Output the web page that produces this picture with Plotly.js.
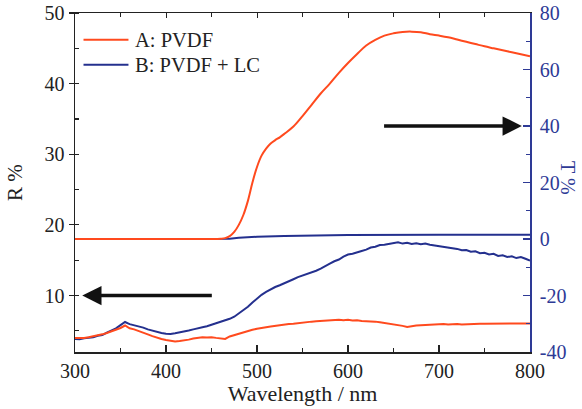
<!DOCTYPE html>
<html>
<head>
<meta charset="utf-8">
<script src="https://cdn.plot.ly/plotly-3.0.1.min.js"></script>
<style>html,body{margin:0;padding:0;background:#fff;}#chart{width:582px;height:409px;}</style>
</head>
<body>
<div id="chart"></div>
<script>
// Wavelength grids (nm)
var wlT_A = [300,350,400,450,460,465,470,475,480,485,490,495,500,505,510,515,520,525,530,540,550,560,570,580,590,600,610,620,630,640,650,660,670,680,690,700,710,720,730,740,750,760,770,780,790,800];
var T_A = [0,0,0,0,0.1,0.3,1,2.5,5,8.5,13.5,20,25.5,29.5,32,33.8,35,36,37.2,39.8,43.5,47.5,51.5,55,58.8,62.3,65.5,68.5,70.5,72,72.8,73.3,73.4,73.2,72.5,72,71.4,70.6,69.8,69,68.2,67.5,66.8,66.1,65.4,64.7];

var wlT_B = [300,400,460,470,480,500,530,600,700,800];
var T_B = [0,0,0,0.1,0.4,0.8,1.1,1.4,1.5,1.5];

var wlR = [300,305,310,315,320,325,330,335,340,345,350,355,360,365,370,375,380,385,390,395,400,405,410,415,420,425,430,435,440,445,450,455,460,465,470,475,480,485,490,495,500,505,510,515,520,525,530,535,540,545,550,555,560,565,570,575,580,585,590,595,600,605,610,615,620,625,630,635,640,645,650,655,660,665,670,675,680,685,690,695,700,705,710,715,720,725,730,735,740,745,750,755,760,765,770,775,780,785,790,795,800];
var R_B = [3.85,3.8,3.95,4.0,4.1,4.3,4.4,4.75,5.0,5.35,5.8,6.25,5.95,5.8,5.6,5.45,5.2,5.0,4.8,4.7,4.6,4.55,4.65,4.75,4.9,5.05,5.2,5.3,5.5,5.65,5.85,6.0,6.2,6.45,6.7,7.0,7.45,7.9,8.4,9.0,9.55,10.1,10.5,10.9,11.2,11.45,11.7,12.05,12.3,12.6,12.8,13.0,13.25,13.5,13.8,14.2,14.5,14.85,15.1,15.5,15.8,15.9,16.15,16.3,16.5,16.8,16.9,17.15,17.2,17.35,17.4,17.55,17.35,17.45,17.3,17.4,17.25,17.35,17.2,17.1,17.0,16.95,16.8,16.75,16.6,16.4,16.45,16.2,16.25,16.0,16.05,15.8,15.9,15.6,15.7,15.45,15.55,15.3,15.45,15.2,14.95];
var R_A = [4.0,3.95,4.0,4.1,4.2,4.35,4.5,4.7,4.9,5.15,5.4,5.75,5.35,5.2,5.0,4.75,4.5,4.25,4.0,3.85,3.7,3.6,3.5,3.55,3.6,3.75,3.9,4.0,4.1,4.05,4.1,4.0,3.9,3.85,4.2,4.4,4.65,4.8,5.0,5.15,5.3,5.35,5.5,5.6,5.7,5.85,5.9,5.95,6.0,6.1,6.1,6.25,6.3,6.35,6.4,6.5,6.5,6.6,6.55,6.5,6.55,6.45,6.5,6.4,6.4,6.35,6.3,6.2,6.1,6.1,6.0,5.85,5.7,5.55,5.7,5.75,5.8,5.85,5.9,5.85,5.9,5.95,5.9,5.95,5.95,5.9,5.95,6.0,5.95,6.0,6.0,6.0,6.0,6.05,6.0,6.05,6.0,6.05,6.05,6.1,6.05];

var seriesNames = ["A: PVDF", "B: PVDF + LC"];
var xTicks = [300,400,500,600,700,800];
var rTicks = [10,20,30,40,50];
var tTicks = [-40,-20,0,20,40,60,80];
var tTickText = ["-40","-20","0","20","40","60","80"];

var orange = "#FF4A1E";
var blue = "#24308E";
var axisBlue = "#2E3A96";
var fontFam = "Liberation Serif";

var traces = [
  {x: wlR, y: R_B, xaxis:"x", yaxis:"y", mode:"lines", line:{color:blue, width:2}, name:seriesNames[1], showlegend:false, hoverinfo:"skip"},
  {x: wlR, y: R_A, xaxis:"x", yaxis:"y", mode:"lines", line:{color:orange, width:2}, name:seriesNames[0], showlegend:false, hoverinfo:"skip"},
  {x: wlT_B, y: T_B, xaxis:"x", yaxis:"y2", mode:"lines", line:{color:blue, width:2}, name:seriesNames[1], showlegend:false, hoverinfo:"skip"},
  {x: wlT_A, y: T_A, xaxis:"x", yaxis:"y2", mode:"lines", line:{color:orange, width:2, shape:"spline"}, name:seriesNames[0], showlegend:false, hoverinfo:"skip"},
  {x:[null], y:[null], xaxis:"x2", yaxis:"y", mode:"lines", showlegend:false, hoverinfo:"skip"}
];

var legendColors = [orange, blue];
var legendY = [0.921, 0.847];
var shapes = [];
var annotations = [
  {xref: "x", yref: "y2", axref: "x", ayref: "y2", x: 791, y: 40, ax: 638, ay: 40, text: "", showarrow: true, arrowhead: 2, arrowsize: 1.1, arrowwidth: 3.5, arrowcolor: "#111"},
  {xref: "x", yref: "y", axref: "x", ayref: "y", x: 308, y: 10, ax: 452, ay: 10, text: "", showarrow: true, arrowhead: 2, arrowsize: 1.1, arrowwidth: 3.5, arrowcolor: "#111"},
  {xref: "paper", yref: "paper", x: 1.085, y: 0.514, xanchor: "center", yanchor: "middle", text: "T %", textangle: 90, showarrow: false, font: {family: fontFam, size: 20, color: axisBlue}}
];
for (var i = 0; i < seriesNames.length; i++) {
  shapes.push({type: "line", xref: "paper", yref: "paper", x0: 0.0187, x1: 0.1175, y0: legendY[i], y1: legendY[i], line: {color: legendColors[i], width: 2}});
  annotations.push({xref: "paper", yref: "paper", x: 0.1285, y: legendY[i], xanchor: "left", yanchor: "middle", text: seriesNames[i], showarrow: false, font: {family: fontFam, size: 20.5, color: "#222"}});
}

var layout = {
  width: 582, height: 409,
  margin: {l: 75, r: 52, t: 13, b: 57},
  paper_bgcolor: "#fff", plot_bgcolor: "#fff",
  font: {family: fontFam, size: 20, color: "#222"},
  showlegend: false,
  xaxis: {
    range: [300, 800], tickvals: xTicks, ticks: "inside", ticklen: 7, tickwidth: 1.2, tickcolor: "#222",
    showline: true, linecolor: "#222", linewidth: 1.5, zeroline: false, showgrid: false,
    minor: {dtick: 50, ticks: "inside", ticklen: 4, tickcolor: "#222", showgrid: false},
    ticklabelstandoff: 0,
    tickfont: {family: fontFam, size: 20, color: "#222"},
    title: {text: "Wavelength / nm", font: {family: fontFam, size: 22, color: "#222"}, standoff: 0}
  },
  xaxis2: {
    range: [300, 800], overlaying: "x", side: "top", anchor: "y", ticks: "inside", ticklen: 5, tickcolor: "#222",
    tickvals: xTicks, showticklabels: false, showline: true, linecolor: "#222", linewidth: 1.5, showgrid: false, zeroline: false,
    minor: {dtick: 50, ticks: "inside", ticklen: 4, tickcolor: "#222", showgrid: false}
  },
  yaxis: {
    range: [2, 50], tickvals: rTicks, ticks: "outside", ticklen: 5, tickwidth: 1.2, tickcolor: "#222",
    showline: true, linecolor: "#222", linewidth: 1.5, zeroline: false, showgrid: false,
    minor: {dtick: 5, ticks: "inside", ticklen: 4, tickcolor: "#222", showgrid: false},
    tickfont: {family: fontFam, size: 20, color: "#222"},
    title: {text: "R %", font: {family: fontFam, size: 21, color: "#222"}, standoff: 16}
  },
  yaxis2: {
    range: [-40, 80], tickvals: tTicks, ticktext: tTickText, overlaying: "y", side: "right", anchor: "x",
    ticks: "inside", ticklen: 7, tickwidth: 1.2, tickcolor: axisBlue,
    showline: true, linecolor: axisBlue, linewidth: 1.8, zeroline: false, showgrid: false,
    tickfont: {family: fontFam, size: 20, color: axisBlue},
    minor: {dtick: 10, ticks: "inside", ticklen: 4, tickcolor: axisBlue, showgrid: false},
    ticklabelstandoff: 4
  },
  shapes: shapes,
  annotations: annotations
};

Plotly.newPlot("chart", traces, layout, {displayModeBar: false, staticPlot: true});
</script>
</body>
</html>
